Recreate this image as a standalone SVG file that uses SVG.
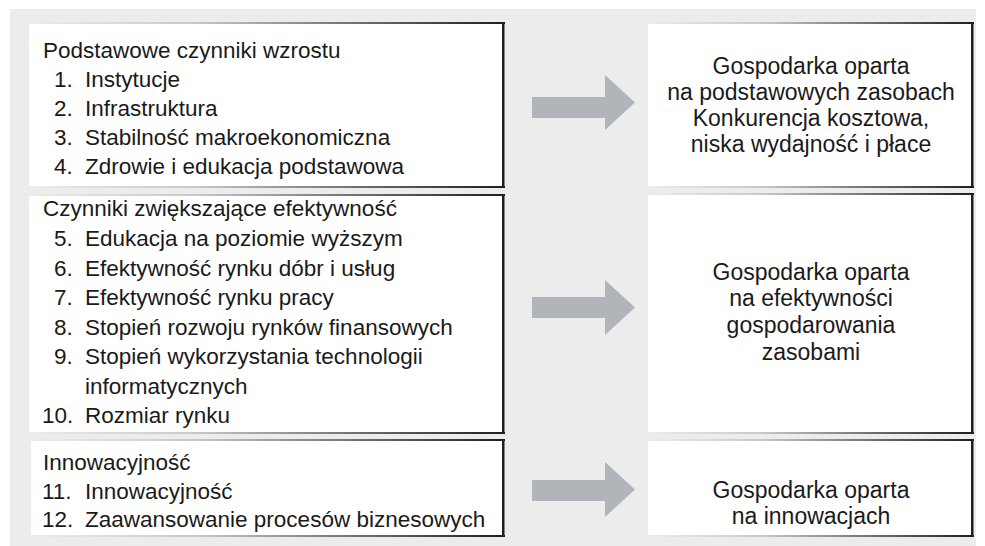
<svg xmlns="http://www.w3.org/2000/svg" width="985" height="546" viewBox="0 0 985 546">
  <defs>
    <!-- edge shading: fades in from the left, dark on the right -->
    <linearGradient id="edgeL" gradientUnits="objectBoundingBox" x1="0" y1="0" x2="1" y2="0">
      <stop offset="0" stop-color="#ececec"/>
      <stop offset="0.35" stop-color="#c8c8c8"/>
      <stop offset="1" stop-color="#1e1e1e"/>
    </linearGradient>
    <style>
      .bg { fill: #ececec; }
      .box { fill: #ffffff; }
      .edge { fill: url(#edgeL); }
      .side { fill: #1e1e1e; }
      .arrow { fill: #b1b5ba; }
      text { font-family: "Liberation Sans", Arial, "DejaVu Sans", sans-serif; font-size: 22.5px; fill: #1a1a1a; }
      .c { text-anchor: middle; font-size: 23px; }
    </style>
  </defs>

  <rect class="bg" x="10" y="9" width="966" height="537"/>

  <!-- left column: groups of factors -->
  <g id="basic-factors">
    <rect class="box" x="29" y="23" width="475" height="164"/>
    <rect class="edge" x="29" y="22" width="476" height="2"/>
    <rect class="edge" x="29" y="186" width="476" height="2"/>
    <rect class="side" x="502" y="22" width="2.5" height="166"/>
    <text x="43" y="58">Podstawowe czynniki wzrostu</text>
    <text x="54" y="87">1.</text><text x="85" y="87">Instytucje</text>
    <text x="54" y="116">2.</text><text x="85" y="116">Infrastruktura</text>
    <text x="54" y="145">3.</text><text x="85" y="145">Stabilność makroekonomiczna</text>
    <text x="54" y="174">4.</text><text x="85" y="174">Zdrowie i edukacja podstawowa</text>
  </g>

  <g id="efficiency-factors">
    <rect class="box" x="29" y="195" width="475" height="238"/>
    <rect class="edge" x="29" y="194" width="476" height="2"/>
    <rect class="edge" x="29" y="432" width="476" height="2"/>
    <rect class="side" x="502" y="194" width="2.5" height="240"/>
    <text x="43" y="216">Czynniki zwiększające efektywność</text>
    <text x="54" y="246">5.</text><text x="85" y="246">Edukacja na poziomie wyższym</text>
    <text x="54" y="276">6.</text><text x="85" y="276">Efektywność rynku dóbr i usług</text>
    <text x="54" y="305">7.</text><text x="85" y="305">Efektywność rynku pracy</text>
    <text x="54" y="335">8.</text><text x="85" y="335">Stopień rozwoju rynków finansowych</text>
    <text x="54" y="364">9.</text><text x="85" y="364">Stopień wykorzystania technologii</text>
    <text x="85" y="394">informatycznych</text>
    <text x="42" y="423">10.</text><text x="85" y="423">Rozmiar rynku</text>
  </g>

  <g id="innovation-factors">
    <rect class="box" x="31" y="440" width="473" height="96"/>
    <rect class="edge" x="31" y="439" width="474" height="2"/>
    <rect class="edge" x="31" y="535" width="474" height="2"/>
    <rect class="side" x="502" y="439" width="2.5" height="98"/>
    <text x="43" y="470">Innowacyjność</text>
    <text x="42" y="499">11.</text><text x="85" y="499">Innowacyjność</text>
    <text x="42" y="527">12.</text><text x="85" y="527">Zaawansowanie procesów biznesowych</text>
  </g>

  <!-- right column: economy stages -->
  <g id="factor-driven">
    <rect class="box" x="648" y="23" width="325" height="164"/>
    <rect class="edge" x="648" y="22" width="326" height="2"/>
    <rect class="edge" x="648" y="186" width="326" height="2"/>
    <rect class="side" x="971" y="22" width="2.5" height="166"/>
    <text class="c" x="811" y="74">Gospodarka oparta</text>
    <text class="c" x="811" y="100">na podstawowych zasobach</text>
    <text class="c" x="811" y="126">Konkurencja kosztowa,</text>
    <text class="c" x="811" y="152">niska wydajność i płace</text>
  </g>

  <g id="efficiency-driven">
    <rect class="box" x="648" y="194" width="325" height="239"/>
    <rect class="edge" x="648" y="193" width="326" height="2"/>
    <rect class="edge" x="648" y="432" width="326" height="2"/>
    <rect class="side" x="971" y="193" width="2.5" height="241"/>
    <text class="c" x="811" y="280">Gospodarka oparta</text>
    <text class="c" x="811" y="306">na efektywności</text>
    <text class="c" x="811" y="333">gospodarowania</text>
    <text class="c" x="811" y="360">zasobami</text>
  </g>

  <g id="innovation-driven">
    <rect class="box" x="648" y="440" width="325" height="96"/>
    <rect class="edge" x="648" y="439" width="326" height="2"/>
    <rect class="edge" x="648" y="535" width="326" height="2"/>
    <rect class="side" x="971" y="439" width="2.5" height="98"/>
    <text class="c" x="811" y="498">Gospodarka oparta</text>
    <text class="c" x="811" y="524">na innowacjach</text>
  </g>

  <!-- block arrows between columns -->
  <g id="connectors">
    <polygon class="arrow" points="532,97 605,97 605,75 635,102.5 605,130 605,118 532,118"/>
    <polygon class="arrow" points="532,297 605,297 605,280 635,307.5 605,335 605,318 532,318"/>
    <polygon class="arrow" points="532,480 605,480 605,462 635,489.5 605,517 605,501 532,501"/>
  </g>
</svg>
